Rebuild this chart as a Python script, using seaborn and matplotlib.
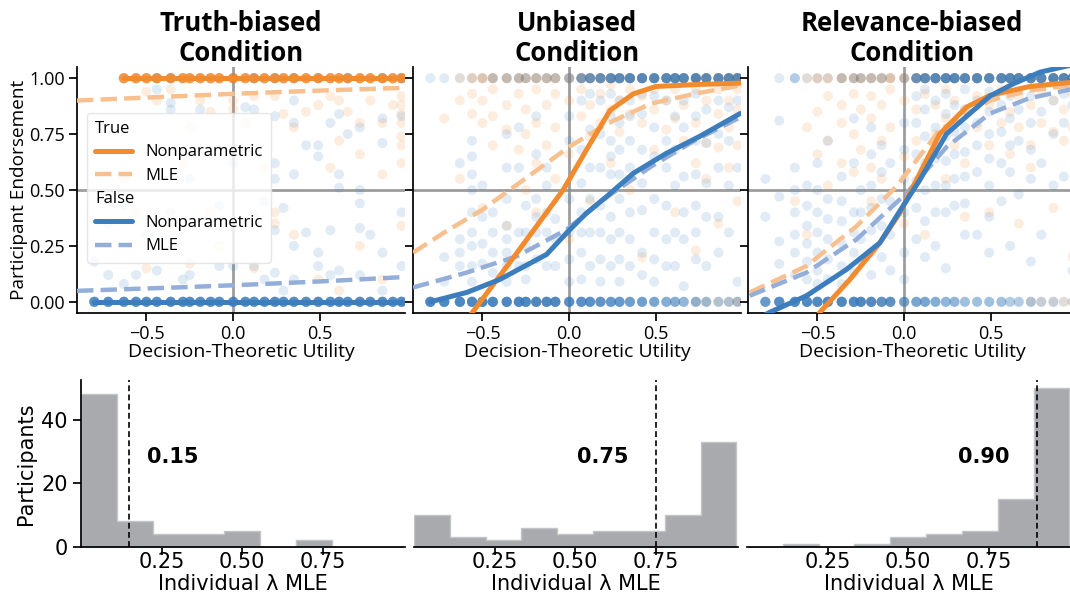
import numpy as np
import pandas as pd
import matplotlib
matplotlib.use("Agg")
import matplotlib.pyplot as plt
from matplotlib.lines import Line2D
import seaborn as sns

sns.set_theme(style="ticks")
plt.rcParams["font.family"] = ["DejaVu Sans"]
plt.rcParams.update({
    "axes.unicode_minus": True,
    "text.color": "black",
    "axes.labelcolor": "black",
    "axes.edgecolor": "black",
    "xtick.color": "black",
    "ytick.color": "black",
})

ORANGE = "#f28a2e"
BLUE = "#3b7dbd"
ORANGE_MLE = "#f9c08f"
BLUE_MLE = "#93aed9"
HIST_GRAY = "#a9aaae"
TOP_FONT = ["Open Sans", "DejaVu Sans"]

# ---------------------------------------------------------------- data
CONDITIONS = ["Truth-biased\nCondition", "Unbiased\nCondition", "Relevance-biased\nCondition"]

# decision-theoretic utility of each stimulus
UTILITY = [-0.80, -0.72, -0.63, -0.56, -0.50, -0.44, -0.36, -0.29, -0.25, -0.19,
           -0.13, -0.08, 0.00, 0.07, 0.12, 0.18, 0.24, 0.29, 0.35, 0.42,
           0.49, 0.56, 0.61, 0.66, 0.73, 0.79, 0.86, 0.92, 0.97]

# --- Truth-biased condition: responses (count of 1.0 / 0.0 answers, and graded answers)
TB_TRUE_ONES = [0, 0, 12, 12, 12, 12, 12, 12, 12, 12, 12, 12, 12, 12, 12, 12, 12, 12, 12, 12,
                12, 12, 12, 12, 12, 12, 12, 12, 12]
TB_TRUE_ZEROS = [0, 0, 0, 0, 0, 0, 1, 0, 0, 0, 0, 0, 0, 0, 0, 0, 1, 0, 0, 0,
                 1, 0, 1, 0, 1, 0, 1, 0, 1]
TB_TRUE_GRADED = [[], [], [0.55], [0.40], [0.94, 0.15], [0.90], [0.95, 0.35], [0.62],
                  [0.78, 0.17], [0.90], [0.40, 0.85], [0.25], [0.86, 0.90], [0.80],
                  [0.15, 0.92], [0.60], [0.92, 0.40, 0.35], [0.84], [0.78, 0.30], [0.85],
                  [0.88, 0.10], [0.60, 0.92], [0.90, 0.72, 0.05], [0.85], [0.80, 0.66, 0.25],
                  [0.90], [0.80, 0.57, 0.10], [0.88], [0.92, 0.88, 0.84, 0.80, 0.74, 0.70, 0.62, 0.34]]
TB_FALSE_ONES = [0, 0, 0, 0, 0, 1, 1, 0, 0, 0, 0, 0, 1, 0, 1, 0, 1, 0, 1, 0,
                 1, 0, 0, 1, 0, 0, 1, 0, 1]
TB_FALSE_ZEROS = [12] * 29
TB_FALSE_GRADED = [[0.18], [0.12, 0.35], [0.43, 0.08], [0.12], [0.30], [0.95, 0.14],
                   [0.89, 0.86, 0.40], [0.10], [0.12, 0.55], [0.86], [], [0.16, 0.43],
                   [0.16, 0.62], [0.87], [0.86, 0.16, 0.38], [0.10, 0.45],
                   [0.83, 0.62, 0.55, 0.32, 0.13], [0.42, 0.05], [0.90, 0.80, 0.57, 0.25, 0.10],
                   [0.31, 0.70], [0.70, 0.65, 0.22, 0.16], [0.80, 0.32, 0.12],
                   [0.84, 0.57, 0.51, 0.14], [0.75], [0.78, 0.50, 0.44, 0.33, 0.12], [0.30],
                   [0.71, 0.82, 0.22, 0.05], [], [0.83, 0.40, 0.16]]

# --- Unbiased condition
UB_TRUE_ONES = [0, 0, 1, 2, 3, 3, 3, 3, 3, 3, 3, 3, 3, 4, 4, 4, 4, 4, 4, 4,
                4, 4, 4, 4, 5, 5, 5, 6, 6]
UB_TRUE_ZEROS = [0, 0, 0, 0, 0, 0, 0, 0, 0, 1, 1, 1, 0, 0, 0, 0, 0, 0, 0, 0,
                 0, 0, 0, 0, 1, 1, 1, 1, 2]
UB_TRUE_GRADED = [[], [0.82], [0.90, 0.55], [0.93, 0.84], [0.90, 0.80, 0.42], [0.95, 0.83, 0.70],
                  [0.88, 0.77, 0.34], [0.93, 0.68], [0.86, 0.75, 0.50], [0.95, 0.80, 0.62, 0.40],
                  [0.88, 0.70], [0.93, 0.78, 0.55], [0.90, 0.66, 0.28], [0.95, 0.83],
                  [0.88, 0.74, 0.45], [0.93, 0.80], [0.97, 0.86, 0.62], [0.90, 0.76],
                  [0.95, 0.84, 0.50], [0.92, 0.80, 0.20], [0.95, 0.86, 0.68], [0.90, 0.77],
                  [0.95, 0.82, 0.40], [0.88, 0.72], [0.95, 0.80, 0.62, 0.23], [0.90, 0.71, 0.55],
                  [0.95, 0.84, 0.69, 0.35], [0.90, 0.78, 0.60], [0.95, 0.86, 0.70, 0.45]]
UB_FALSE_ONES = [1, 1, 1, 1, 1, 2, 2, 2, 2, 2, 2, 2, 3, 6, 8, 9, 10, 10, 11, 11,
                 11, 11, 11, 11, 11, 10, 10, 10, 10]
UB_FALSE_ZEROS = [14, 14, 14, 14, 14, 14, 14, 14, 14, 13, 13, 13, 11, 11, 11, 10, 9, 9, 8, 8,
                  7, 6, 6, 5, 5, 4, 3, 3, 3]
UB_FALSE_GRADED = [[], [0.09, 0.20], [0.62, 0.28, 0.22, 0.16],
                   [0.72, 0.65, 0.57, 0.50, 0.40, 0.31, 0.25, 0.16, 0.09],
                   [0.52, 0.38, 0.26, 0.17], [0.40, 0.31, 0.22, 0.13],
                   [0.75, 0.60, 0.46, 0.34, 0.28, 0.22, 0.16, 0.09], [0.78, 0.60, 0.31, 0.16],
                   [0.43, 0.31, 0.25, 0.16, 0.10], [0.83, 0.66, 0.46, 0.38, 0.31, 0.19],
                   [0.60, 0.52, 0.40, 0.31, 0.16], [0.37, 0.28, 0.16],
                   [0.83, 0.72, 0.46, 0.31, 0.19, 0.09], [0.90, 0.68, 0.53, 0.40, 0.31, 0.22, 0.10],
                   [0.93, 0.77, 0.60, 0.46, 0.31, 0.16], [0.90, 0.75, 0.60, 0.43, 0.31, 0.19, 0.09],
                   [0.93, 0.83, 0.72, 0.65, 0.57, 0.38, 0.28, 0.16],
                   [0.90, 0.80, 0.68, 0.57, 0.46, 0.31, 0.19, 0.09],
                   [0.90, 0.83, 0.72, 0.60, 0.40, 0.28, 0.16],
                   [0.93, 0.84, 0.68, 0.53, 0.41, 0.22, 0.12],
                   [0.92, 0.78, 0.65, 0.46, 0.31, 0.19, 0.09], [0.90, 0.72, 0.60, 0.43, 0.28, 0.16],
                   [0.83, 0.68, 0.52, 0.31, 0.16], [0.90, 0.78, 0.56, 0.40, 0.28, 0.07],
                   [0.93, 0.83, 0.72, 0.57, 0.43, 0.31, 0.19], [0.86, 0.71, 0.53, 0.38, 0.16],
                   [0.90, 0.75, 0.60, 0.38, 0.22], [0.97, 0.87, 0.72, 0.52, 0.31], [0.90, 0.60, 0.09]]

# --- Relevance-biased condition
RB_TRUE_ONES = [0, 0, 0, 1, 2, 2, 3, 3, 3, 3, 3, 3, 3, 4, 4, 4, 4, 4, 4, 4,
                4, 4, 4, 4, 4, 4, 5, 5, 5]
RB_TRUE_ZEROS = [0, 0, 0, 0, 0, 0, 1, 0, 1, 1, 1, 1, 1, 0, 0, 0, 0, 0, 0, 0,
                 0, 0, 0, 0, 1, 1, 1, 1, 1]
RB_TRUE_GRADED = [[], [], [0.45], [0.78, 0.30], [0.85, 0.66], [0.92, 0.72, 0.52],
                  [0.88, 0.80, 0.62], [0.93, 0.75, 0.58], [0.86, 0.68], [0.92, 0.82, 0.60, 0.45],
                  [0.88, 0.72, 0.55], [0.95, 0.78], [0.90, 0.65, 0.35], [0.86, 0.72],
                  [0.93, 0.60, 0.30], [0.88, 0.75], [0.95, 0.82, 0.55], [0.90, 0.70],
                  [0.86, 0.62, 0.38], [0.92, 0.78], [0.88, 0.70, 0.40], [0.95, 0.80],
                  [0.85, 0.66], [0.92, 0.78, 0.35], [0.88, 0.70, 0.60], [0.94, 0.80],
                  [0.90, 0.76, 0.42], [0.86, 0.72], [0.93, 0.78, 0.20]]
RB_FALSE_ONES = [0, 1, 3, 1, 1, 1, 2, 2, 2, 2, 2, 1, 2, 8, 10, 11, 11, 11, 11, 11,
                 11, 11, 11, 11, 11, 11, 11, 11, 11]
RB_FALSE_ZEROS = [9, 12, 13, 13, 13, 13, 13, 13, 13, 12, 10, 10, 7, 7, 7, 6, 5, 5, 4, 4,
                  4, 4, 3, 3, 3, 2, 2, 1, 1]
RB_FALSE_GRADED = [[0.55, 0.38], [0.81, 0.47, 0.27, 0.17], [0.60, 0.50, 0.40, 0.30, 0.22, 0.12],
                   [0.52, 0.43, 0.34, 0.26, 0.18, 0.10], [0.62, 0.50, 0.40, 0.31, 0.22, 0.14, 0.08],
                   [0.72, 0.46, 0.37, 0.28, 0.19, 0.10], [0.56, 0.45, 0.36, 0.26, 0.16, 0.08],
                   [0.82, 0.62, 0.40, 0.31, 0.22, 0.13], [0.50, 0.40, 0.28, 0.18],
                   [0.78, 0.66, 0.52, 0.42, 0.32, 0.22, 0.12], [0.70, 0.58, 0.46, 0.34, 0.20],
                   [0.62, 0.45, 0.30, 0.14], [0.80, 0.68, 0.55, 0.40, 0.22, 0.10],
                   [0.92, 0.80, 0.66, 0.54, 0.42, 0.28], [0.95, 0.86, 0.74, 0.62, 0.50, 0.36, 0.20],
                   [0.90, 0.78, 0.64, 0.52, 0.40, 0.25], [0.93, 0.84, 0.74, 0.63, 0.52, 0.40, 0.15],
                   [0.88, 0.76, 0.66, 0.55, 0.43], [0.95, 0.86, 0.78, 0.67, 0.56, 0.44, 0.30],
                   [0.90, 0.80, 0.70, 0.58, 0.30], [0.94, 0.85, 0.75, 0.64, 0.52, 0.38, 0.22],
                   [0.88, 0.76, 0.62, 0.45], [0.92, 0.82, 0.70, 0.58, 0.25], [0.86, 0.72, 0.48],
                   [0.92, 0.80, 0.68, 0.55, 0.18], [0.85, 0.62, 0.30], [0.90, 0.75, 0.52],
                   [0.93, 0.80, 0.56], [0.88, 0.14]]

# --- fitted curves: nonparametric (NP) and maximum likelihood (MLE)
TB_NP_TRUE_X = [-0.63, 0.00, 0.97]
TB_NP_TRUE_Y = [1.00, 1.00, 1.00]
TB_NP_FALSE_X = [-0.80, 0.00, 0.97]
TB_NP_FALSE_Y = [0.00, 0.00, 0.00]
TB_MLE_X = [-0.90, -0.60, -0.30, 0.00, 0.30, 0.60, 0.99]
TB_MLE_TRUE_Y = [0.900, 0.910, 0.920, 0.930, 0.939, 0.947, 0.957]
TB_MLE_FALSE_Y = [0.049, 0.057, 0.065, 0.074, 0.084, 0.095, 0.111]

UB_NP_TRUE_X = [-0.62, -0.56, -0.30, -0.035, 0.10, 0.235, 0.37, 0.50, 0.75, 0.985]
UB_NP_TRUE_Y = [-0.11, -0.05, 0.22, 0.50, 0.68, 0.856, 0.93, 0.963, 0.972, 0.978]
UB_NP_FALSE_X = [-0.80, -0.59, -0.40, -0.13, -0.015, 0.10, 0.216, 0.37, 0.56, 0.75, 0.985]
UB_NP_FALSE_Y = [0.0, 0.042, 0.10, 0.212, 0.308, 0.397, 0.471, 0.575, 0.664, 0.739, 0.842]
UB_MLE_TRUE_X = [-0.90, -0.72, -0.50, -0.21, 0.00, 0.22, 0.47, 0.72, 0.99]
UB_MLE_TRUE_Y = [0.22, 0.31, 0.412, 0.575, 0.693, 0.797, 0.886, 0.93, 0.968]
UB_MLE_FALSE_X = [-0.90, -0.59, -0.30, -0.015, 0.22, 0.47, 0.72, 0.99]
UB_MLE_FALSE_Y = [0.064, 0.131, 0.204, 0.323, 0.47, 0.604, 0.72, 0.827]

RB_NP_TRUE_X = [-0.53, -0.486, -0.313, -0.14, -0.025, 0.071, 0.206, 0.36, 0.494, 0.725, 0.97]
RB_NP_TRUE_Y = [-0.10, -0.047, 0.10, 0.264, 0.397, 0.545, 0.752, 0.871, 0.923, 0.963, 0.982]
RB_NP_FALSE_X = [-0.85, -0.775, -0.563, -0.332, -0.14, -0.03, 0.09, 0.245, 0.494, 0.629, 0.783, 0.97]
RB_NP_FALSE_Y = [-0.08, -0.047, 0.027, 0.145, 0.264, 0.40, 0.545, 0.752, 0.92, 0.975, 1.027, 1.06]
RB_MLE_TRUE_X = [-0.89, -0.563, -0.275, -0.044, 0.206, 0.494, 0.72, 0.99]
RB_MLE_TRUE_Y = [0.042, 0.16, 0.338, 0.516, 0.77, 0.90, 0.945, 0.970]
RB_MLE_FALSE_X = [-0.89, -0.563, -0.275, 0.014, 0.245, 0.494, 0.72, 0.99]
RB_MLE_FALSE_Y = [0.027, 0.131, 0.279, 0.486, 0.693, 0.842, 0.91, 0.955]

# --- individual lambda MLE histograms (participants per bin) and group MLE
LAMBDA_BIN_CENTERS = [0.0556, 0.1667, 0.2778, 0.3889, 0.5, 0.6111, 0.7222, 0.8333, 0.9444]
TB_LAMBDA_COUNTS = [48, 8, 4, 4, 5, 0, 2, 0, 0]
UB_LAMBDA_COUNTS = [10, 3, 2, 6, 4, 5, 5, 10, 33]
RB_LAMBDA_COUNTS = [0, 1, 0, 1, 3, 4, 5, 15, 50]
GROUP_LAMBDA = [0.15, 0.75, 0.90]


def response_frame(parts):
    rows = []
    for label, ones, zeros, graded in parts:
        for u, n1, n0, ys in zip(UTILITY, ones, zeros, graded):
            rows += [(u, 1.0, label)] * n1
            rows += [(u, 0.0, label)] * n0
            rows += [(u, y, label) for y in ys]
    return pd.DataFrame(rows, columns=["utility", "endorsement", "truth"])


panels = [
    dict(resp=response_frame([("True", TB_TRUE_ONES, TB_TRUE_ZEROS, TB_TRUE_GRADED),
                              ("False", TB_FALSE_ONES, TB_FALSE_ZEROS, TB_FALSE_GRADED)]),
         np_true=(TB_NP_TRUE_X, TB_NP_TRUE_Y), np_false=(TB_NP_FALSE_X, TB_NP_FALSE_Y),
         mle_true=(TB_MLE_X, TB_MLE_TRUE_Y), mle_false=(TB_MLE_X, TB_MLE_FALSE_Y),
         counts=TB_LAMBDA_COUNTS),
    dict(resp=response_frame([("True", UB_TRUE_ONES, UB_TRUE_ZEROS, UB_TRUE_GRADED),
                              ("False", UB_FALSE_ONES, UB_FALSE_ZEROS, UB_FALSE_GRADED)]),
         np_true=(UB_NP_TRUE_X, UB_NP_TRUE_Y), np_false=(UB_NP_FALSE_X, UB_NP_FALSE_Y),
         mle_true=(UB_MLE_TRUE_X, UB_MLE_TRUE_Y), mle_false=(UB_MLE_FALSE_X, UB_MLE_FALSE_Y),
         counts=UB_LAMBDA_COUNTS),
    dict(resp=response_frame([("True", RB_TRUE_ONES, RB_TRUE_ZEROS, RB_TRUE_GRADED),
                              ("False", RB_FALSE_ONES, RB_FALSE_ZEROS, RB_FALSE_GRADED)]),
         np_true=(RB_NP_TRUE_X, RB_NP_TRUE_Y), np_false=(RB_NP_FALSE_X, RB_NP_FALSE_Y),
         mle_true=(RB_MLE_TRUE_X, RB_MLE_TRUE_Y), mle_false=(RB_MLE_FALSE_X, RB_MLE_FALSE_Y),
         counts=RB_LAMBDA_COUNTS),
]

# ---------------------------------------------------------------- figure
W, H = 1070, 597
fig = plt.figure(figsize=(W / 100, H / 100), dpi=100)

top_left = [77, 413, 748]
bot_left = [81, 414, 747]
label_offset = [0.055, -0.085, -0.085]

for i, p in enumerate(panels):
    ax = fig.add_axes([top_left[i] / W, (H - 313) / H, 328 / W, 246 / H])
    ax.axvline(0, color="0.55", lw=2.0, alpha=0.85, zorder=0.5)
    ax.axhline(0.5, color="0.55", lw=2.0, alpha=0.85, zorder=0.5)
    sns.scatterplot(data=p["resp"], x="utility", y="endorsement", hue="truth",
                    palette={"True": ORANGE, "False": BLUE}, alpha=0.15, s=52,
                    linewidth=0, legend=False, ax=ax, zorder=1)
    for (xs, ys), col, ls, lw in ((p["mle_true"], ORANGE_MLE, "--", 3.2),
                                  (p["mle_false"], BLUE_MLE, "--", 3.2),
                                  (p["np_true"], ORANGE, "-", 3.6),
                                  (p["np_false"], BLUE, "-", 3.6)):
        sns.lineplot(x=xs, y=ys, color=col, linestyle=ls, lw=lw, ax=ax, zorder=3)
    ax.set_xlim(-0.9, 0.99)
    ax.set_ylim(-0.05, 1.05)
    ax.set_xticks([-0.5, 0.0, 0.5])
    ax.set_yticks([0.0, 0.25, 0.5, 0.75, 1.0])
    ax.yaxis.set_major_formatter(matplotlib.ticker.FormatStrFormatter("%.2f"))
    ax.set_title(CONDITIONS[i], fontfamily=TOP_FONT, fontweight="bold", fontsize=18.5,
                 pad=4, linespacing=1.12)
    ax.set_xlabel("Decision-Theoretic Utility", fontfamily=TOP_FONT, fontsize=14, labelpad=0)
    ax.tick_params(pad=2.5)
    if i == 0:
        ax.set_ylabel("Participant Endorsement", fontfamily=TOP_FONT, fontsize=13.7, labelpad=1)
        handles = [Line2D([], [], color="none"),
                   Line2D([], [], color=ORANGE, lw=3.6),
                   Line2D([], [], color=ORANGE_MLE, lw=3.2, ls="--"),
                   Line2D([], [], color="none"),
                   Line2D([], [], color=BLUE, lw=3.6),
                   Line2D([], [], color=BLUE_MLE, lw=3.2, ls="--")]
        labels = ["True", "Nonparametric", "MLE", "False", "Nonparametric", "MLE"]
        leg = ax.legend(handles, labels, loc="upper left", bbox_to_anchor=(0.03, 0.815),
                        borderaxespad=0, prop={"family": TOP_FONT, "size": 12},
                        handlelength=2.2, handletextpad=0.8, labelspacing=0.45,
                        borderpad=0.5, frameon=True, framealpha=0.8, edgecolor="0.88",
                        fancybox=True)
        for col in leg._legend_handle_box.get_children():
            for row in col.get_children():
                kids = row.get_children()
                if len(kids) == 2 and kids[1].get_children()[0].get_text() in ("True", "False"):
                    row._children = [kids[1]]
    else:
        ax.set_ylabel("")
        ax.tick_params(axis="y", labelleft=False)
    for lab in ax.get_xticklabels() + ax.get_yticklabels():
        lab.set_fontfamily(TOP_FONT)
        lab.set_fontsize(13)
    sns.despine(ax=ax)

    # histogram of individual lambda estimates
    bx = fig.add_axes([bot_left[i] / W, (H - 546.7) / H, 324 / W, 166.7 / H])
    hist_df = pd.DataFrame({"lam": LAMBDA_BIN_CENTERS, "participants": p["counts"]})
    sns.histplot(data=hist_df, x="lam", weights="participants", bins=9, binrange=(0.0, 1.0),
                 element="step", fill=True, color=HIST_GRAY, alpha=1.0,
                 edgecolor="#c4c5c8", linewidth=1.0, ax=bx)
    lam = GROUP_LAMBDA[i]
    bx.axvline(lam, color="black", ls="--", lw=1.2, dashes=(3.5, 2))
    bx.text(lam + label_offset[i], 28.3, f"{lam:.2f}", fontweight="bold", fontsize=15,
            ha="left" if i == 0 else "right", va="center")
    bx.set_xlim(0.0, 1.005)
    bx.set_ylim(0, 52.5)
    bx.set_xticks([0.25, 0.5, 0.75])
    bx.set_yticks([0, 20, 40])
    bx.tick_params(labelsize=15)
    bx.tick_params(axis="x", pad=-2)
    bx.set_xlabel("Individual λ MLE", fontsize=15)
    bx.xaxis.set_label_coords(0.5, -0.165)
    if i == 0:
        bx.set_ylabel("Participants", fontsize=15, labelpad=4)
        sns.despine(ax=bx)
    else:
        bx.set_ylabel("")
        bx.tick_params(axis="y", left=False, labelleft=False)
        sns.despine(ax=bx, left=True)

fig.savefig("out.png", dpi=100)
